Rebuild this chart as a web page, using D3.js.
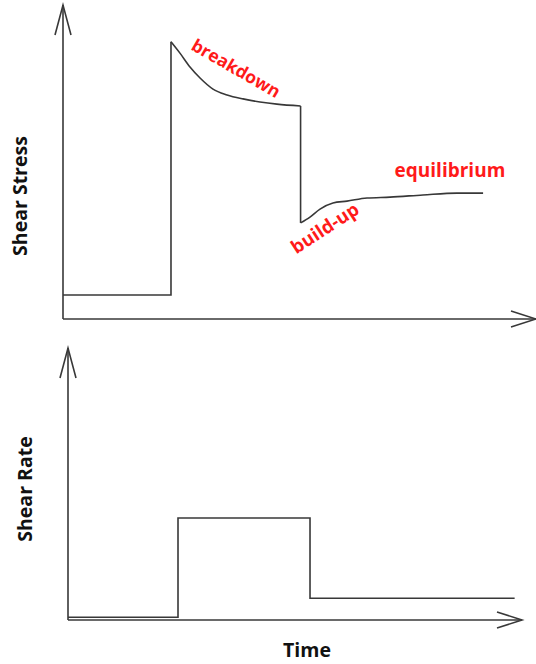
<!DOCTYPE html>
<html>
<head>
<meta charset="utf-8">
<script src="https://cdn.jsdelivr.net/npm/d3@7"></script>
<style>
  html, body { margin: 0; padding: 0; background: #fff; }
  svg { display: block; }
  text { font-family: "Open Sans", "Noto Sans", sans-serif; font-weight: bold; }
</style>
</head>
<body>
<svg id="chart" width="536" height="664"></svg>
<script>
// ---- data (arbitrary units) ----
const timeOn = 10;      // shear rate step up
const timeOff = 22;     // shear rate step down

// shear stress: rest level before the step
const stressRest = [[0, 7.8], [10, 7.8]];
// breakdown decay after step up
const stressBreakdown = [
  [10, 90.3], [10.83, 86.6], [11.76, 82.1], [12.69, 78.5], [13.89, 74.9],
  [15.19, 73.0], [16.67, 71.7], [18.24, 70.7], [19.81, 70.0], [22, 69.4]
];
// build-up recovery after step down
const stressBuildup = [
  [22, 31.3], [22.87, 33.2], [23.8, 35.8], [25.0, 37.8], [26.3, 38.4],
  [28.15, 39.4], [30.28, 39.7], [33.33, 40.4], [36.48, 41.0], [38.9, 41.0]
];

// shear rate steps
const rateTimes  = [0, 10, 10, 22, 22, 40.6];
const rateValues = [1, 1, 37.5, 37.5, 8, 8];

const annotations = ["breakdown", "build-up", "equilibrium"];
const axisLabels = { stress: "Shear Stress", rate: "Shear Rate", time: "Time" };

// ---- drawing ----
const svg = d3.select("#chart");
const stroke = "#383838";

// top panel scales
const xTop = d3.scaleLinear().domain([0, 43.8]).range([63, 536]);
const yTop = d3.scaleLinear().domain([0, 100]).range([319, 12]);
// bottom panel scales
const xBot = d3.scaleLinear().domain([0, 41.27]).range([68, 522]);
const yBot = d3.scaleLinear().domain([0, 100]).range([620, 348]);

function drawAxes(x, y, tipY) {
  const x0 = x.range()[0], x1 = x.range()[1];
  const y0 = y.range()[0];
  const g = svg.append("g").attr("fill", "none").attr("stroke", stroke).attr("stroke-width", 1.6);
  g.append("line").attr("x1", x0).attr("y1", y0).attr("x2", x0).attr("y2", tipY);
  g.append("path").attr("d", `M${x0 - 8},${tipY + 30}L${x0},${tipY}L${x0 + 8},${tipY + 30}`);
  g.append("line").attr("x1", x0).attr("y1", y0).attr("x2", x1).attr("y2", y0);
  g.append("path").attr("d", `M${x1 - 25},${y0 - 8}L${x1},${y0}L${x1 - 25},${y0 + 8}`);
}

drawAxes(xTop, yTop, 5);
drawAxes(xBot, yBot, 348);

const lineLin = (x, y) => d3.line().x(d => x(d[0])).y(d => y(d[1]));
const lineCurve = (x, y) => d3.line().x(d => x(d[0])).y(d => y(d[1])).curve(d3.curveMonotoneX);

const gTop = svg.append("g").attr("fill", "none").attr("stroke", stroke).attr("stroke-width", 1.6);
gTop.append("path").attr("d", lineLin(xTop, yTop)([...stressRest, stressBreakdown[0]]));
gTop.append("path").attr("d", lineCurve(xTop, yTop)(stressBreakdown));
gTop.append("path").attr("d", lineLin(xTop, yTop)([stressBreakdown[stressBreakdown.length - 1], stressBuildup[0]]));
gTop.append("path").attr("d", lineCurve(xTop, yTop)(stressBuildup));

const rateData = rateTimes.map((t, i) => [t, rateValues[i]]);
svg.append("path")
  .attr("fill", "none").attr("stroke", stroke).attr("stroke-width", 1.6)
  .attr("d", lineLin(xBot, yBot)(rateData));

// annotations (red)
const red = "#ff1a1a";
svg.append("text").text(annotations[0])
  .attr("fill", red).attr("font-size", 17.5).attr("text-anchor", "middle")
  .attr("transform", `translate(${xTop(15.74)},${yTop(79.9)}) rotate(30)`);
svg.append("text").text(annotations[1])
  .attr("fill", red).attr("font-size", 18.5).attr("text-anchor", "middle")
  .attr("transform", `translate(${xTop(24.58)},${yTop(27.85)}) rotate(-33)`);
svg.append("text").text(annotations[2])
  .attr("fill", red).attr("font-size", 19).attr("text-anchor", "middle")
  .attr("x", xTop(35.83)).attr("y", yTop(46.25));

// axis labels
svg.append("text").text(axisLabels.stress)
  .attr("fill", "#111").attr("font-size", 19.5).attr("text-anchor", "middle")
  .attr("transform", `translate(27,196) rotate(-90)`);
svg.append("text").text(axisLabels.rate)
  .attr("fill", "#111").attr("font-size", 19.5).attr("text-anchor", "middle")
  .attr("transform", `translate(32,489) rotate(-90)`);
svg.append("text").text(axisLabels.time)
  .attr("fill", "#111").attr("font-size", 19.5).attr("text-anchor", "middle")
  .attr("x", 307).attr("y", 657);
</script>
</body>
</html>
